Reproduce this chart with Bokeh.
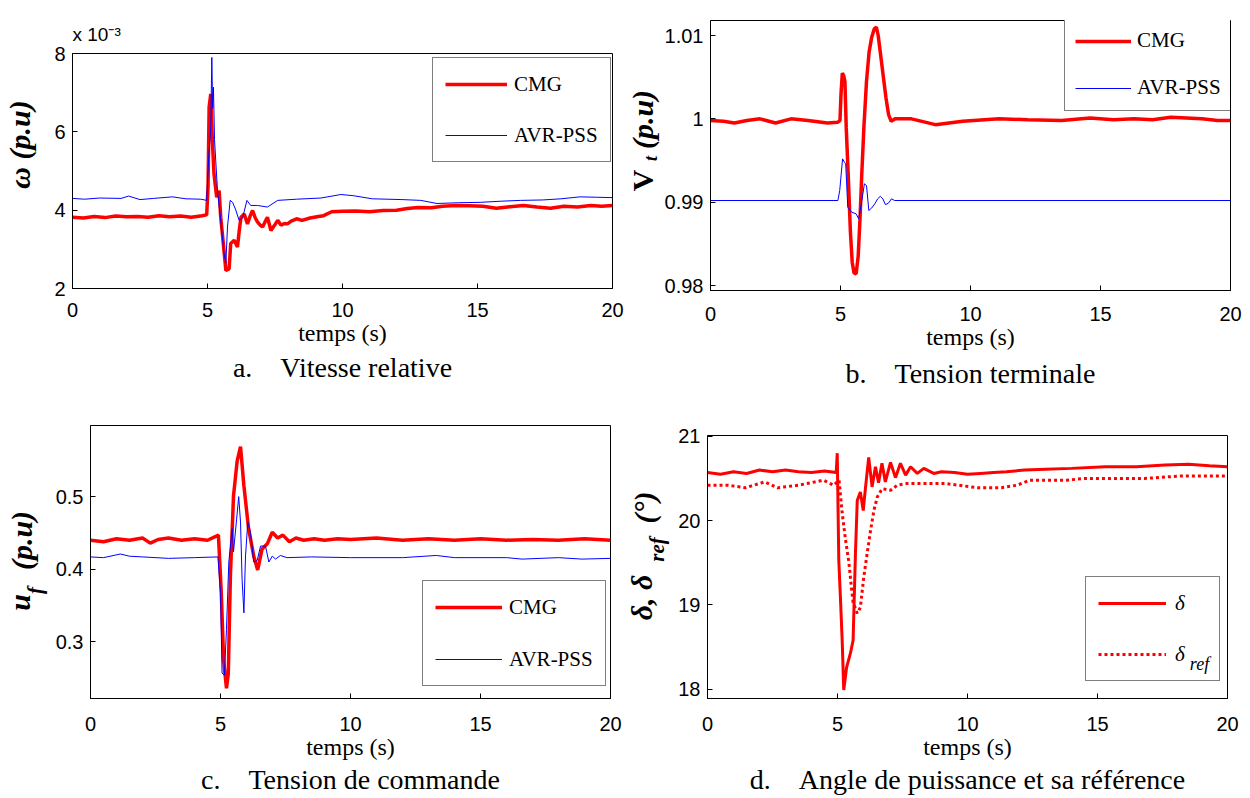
import math
from bokeh.plotting import figure
from bokeh.layouts import column, row
from bokeh.models import Label, Legend, LegendItem, FixedTicker, Range1d, Title
from bokeh.core.properties import value
from bokeh.embed import file_html
from bokeh.resources import INLINE

# ---------------- data ----------------
# a. relative speed (x 1e-3 p.u)
t_w_cmg = [0, 0.4, 0.8, 1.2, 1.6, 2.0, 2.4, 2.8, 3.2, 3.6,
           4.0, 4.4, 4.8, 4.97, 5.02, 5.06, 5.12, 5.18, 5.24, 5.34,
           5.43, 5.49, 5.55, 5.62, 5.68, 5.8, 5.86, 5.99, 6.11, 6.18,
           6.24, 6.36, 6.48, 6.58, 6.67, 6.77, 6.85, 6.95, 7.04, 7.13,
           7.22, 7.35, 7.47, 7.6, 7.72, 7.85, 7.96, 8.1, 8.3, 8.5,
           8.8, 9.1, 9.3, 9.6, 10.0, 10.5, 11.0, 11.5, 12.0, 12.4,
           12.8, 13.3, 13.7, 14.2, 14.7, 15.2, 15.7, 16.2, 16.7, 17.2,
           17.7, 18.2, 18.7, 19.2, 19.6, 20.0]
w_cmg = [3.82, 3.80, 3.84, 3.81, 3.85, 3.83, 3.84, 3.82, 3.86, 3.83,
         3.85, 3.82, 3.86, 3.88, 4.6, 6.63, 6.97, 5.78, 4.93, 4.33,
         4.5, 3.82, 3.4, 2.9, 2.46, 2.5, 3.15, 3.23, 3.06, 3.5,
         3.82, 3.9, 3.65, 3.85, 3.99, 3.8, 3.7, 3.62, 3.57, 3.7,
         3.82, 3.48, 3.6, 3.74, 3.62, 3.66, 3.65, 3.72, 3.78, 3.74,
         3.8, 3.84, 3.86, 3.96, 3.97, 3.98, 3.96, 3.99, 4.0, 4.04,
         4.07, 4.06, 4.1, 4.12, 4.11, 4.1, 4.05, 4.09, 4.12, 4.08,
         4.05, 4.1, 4.08, 4.12, 4.1, 4.12]
t_w_pss = [0, 0.45, 1.0, 1.8, 2.08, 2.5, 3.0, 3.7, 4.2, 4.75,
           4.97, 5.04, 5.12, 5.16, 5.19, 5.22, 5.26, 5.37, 5.49, 5.61,
           5.68, 5.74, 5.84, 5.93, 6.05, 6.17, 6.3, 6.46, 6.6, 6.85,
           7.22, 7.6, 8.3, 9.2, 9.94, 10.4, 11.1, 12.2, 12.9, 13.5,
           14.3, 15.1, 15.9, 16.6, 17.4, 18.1, 18.8, 19.4, 20.0]
w_pss = [4.30, 4.28, 4.31, 4.30, 4.36, 4.27, 4.30, 4.34, 4.29, 4.28,
         4.25, 5.3, 6.1, 7.9, 6.6, 7.14, 5.8, 4.5, 3.74, 2.9,
         2.65, 3.57, 4.25, 4.2, 4.0, 3.74, 3.8, 4.25, 4.12, 4.12,
         4.08, 4.25, 4.28, 4.31, 4.4, 4.37, 4.29, 4.27, 4.25, 4.17,
         4.19, 4.2, 4.23, 4.25, 4.26, 4.29, 4.34, 4.33, 4.32]

# b. terminal voltage (p.u)
t_vt_cmg = [0, 0.5, 0.92, 1.4, 1.9, 2.5, 3.1, 3.75, 4.5, 4.9,
            4.98, 5.02, 5.07, 5.12, 5.17, 5.22, 5.3, 5.38, 5.45, 5.52,
            5.6, 5.68, 5.75, 5.82, 5.9, 6.0, 6.1, 6.2, 6.3, 6.38,
            6.45, 6.55, 6.65, 6.75, 6.85, 6.95, 7.1, 7.73, 8.65, 9.7,
            11.1, 12.2, 13.5, 14.6, 15.5, 16.3, 17.0, 17.7, 18.3, 18.9,
            19.5, 20.0]
vt_cmg = [0.9998, 0.9997, 0.9995, 0.9998, 1.0000, 0.9995, 1.0000, 0.9998, 0.9995, 0.9996,
          0.9998, 1.003, 1.0055, 1.0052, 1.0045, 0.999, 0.993, 0.9865, 0.9828, 0.9815,
          0.9814, 0.9835, 0.988, 0.9935, 0.999, 1.0045, 1.008, 1.0098, 1.0108, 1.011,
          1.0100, 1.0075, 1.005, 1.0025, 1.0005, 0.9997, 1.0, 1.0, 0.9993, 0.9997,
          1.0, 0.9999, 0.9998, 1.0001, 0.9999, 1.0, 0.9999, 1.0002, 1.0001, 1.0,
          0.9998, 0.9998]
t_vt_pss = [0, 4.9, 4.97, 5.08, 5.15, 5.2, 5.28, 5.43, 5.6, 5.7,
            5.8, 5.92, 6.0, 6.09, 6.2, 6.32, 6.43, 6.53, 6.63, 6.73,
            6.85, 6.96, 7.08, 20.0]
vt_pss = [0.9902, 0.9902, 0.9914, 0.9952, 0.9948, 0.9946, 0.9894, 0.9888, 0.9886, 0.988,
          0.9898, 0.9922, 0.992, 0.989, 0.9893, 0.9898, 0.9904, 0.9907, 0.9904, 0.9897,
          0.9899, 0.9904, 0.9902, 0.9902]

# c. control voltage (p.u)
t_uf_cmg = [0, 0.5, 1.0, 1.5, 2.0, 2.3, 2.6, 3.0, 3.5, 4.0,
            4.5, 4.92, 5.03, 5.12, 5.23, 5.3, 5.38, 5.5, 5.64, 5.77,
            5.9, 6.08, 6.28, 6.43, 6.6, 6.8, 6.99, 7.2, 7.4, 7.65,
            7.9, 8.2, 8.6, 9.0, 9.5, 10.0, 11.0, 12.0, 13.0, 14.0,
            15.0, 16.0, 17.0, 18.0, 19.0, 20.0]
uf_cmg = [0.440, 0.438, 0.442, 0.440, 0.443, 0.436, 0.441, 0.443, 0.440, 0.442,
          0.440, 0.447, 0.368, 0.275, 0.236, 0.256, 0.39, 0.501, 0.549, 0.569,
          0.515, 0.456, 0.418, 0.399, 0.428, 0.435, 0.451, 0.443, 0.447, 0.438,
          0.443, 0.44, 0.442, 0.44, 0.442, 0.441, 0.443, 0.44, 0.442, 0.44,
          0.442, 0.44, 0.441, 0.44, 0.442, 0.44]
t_uf_pss = [0, 0.5, 1.15, 1.5, 2.0, 3.0, 4.0, 4.9, 5.0, 5.06,
            5.15, 5.23, 5.32, 5.45, 5.5, 5.62, 5.7, 5.77, 5.83, 5.9,
            5.96, 6.05, 6.15, 6.28, 6.41, 6.54, 6.73, 6.86, 6.99, 7.12,
            7.3, 7.56, 8.5, 10.0, 12.0, 13.3, 14.0, 16.0, 16.6, 18.0,
            18.9, 20.0]
uf_pss = [0.417, 0.416, 0.421, 0.418, 0.417, 0.415, 0.416, 0.417, 0.368, 0.257,
          0.254, 0.317, 0.41, 0.456, 0.424, 0.469, 0.50, 0.465, 0.386, 0.34,
          0.417, 0.465, 0.451, 0.41, 0.412, 0.432, 0.432, 0.410, 0.418, 0.414,
          0.419, 0.416, 0.417, 0.416, 0.416, 0.419, 0.416, 0.416, 0.414, 0.416,
          0.414, 0.415]

# d. power angle and reference (deg)
t_delta = [0, 0.5, 1.0, 1.5, 2.0, 2.5, 3.0, 3.5, 4.0, 4.5,
           4.95, 4.99, 5.05, 5.12, 5.18, 5.24, 5.35, 5.5, 5.6, 5.69,
           5.76, 5.88, 5.99, 6.08, 6.2, 6.33, 6.46, 6.58, 6.71, 6.84,
           7.04, 7.23, 7.42, 7.62, 7.81, 8.07, 8.32, 8.7, 9.0, 9.5,
           10.0, 10.5, 11.0, 11.5, 12.2, 13.0, 14.0, 15.3, 16.5, 17.6,
           18.5, 19.3, 20.0]
delta = [20.57, 20.55, 20.58, 20.56, 20.6, 20.58, 20.6, 20.58, 20.57, 20.59,
         20.57, 20.8, 19.53, 19.03, 18.58, 17.99, 18.26, 18.43, 18.58, 19.61,
         20.24, 20.34, 20.12, 20.4, 20.75, 20.4, 20.64, 20.45, 20.68, 20.46,
         20.69, 20.51, 20.68, 20.54, 20.64, 20.56, 20.62, 20.56, 20.58, 20.57,
         20.55, 20.56, 20.57, 20.58, 20.6, 20.61, 20.62, 20.64, 20.64, 20.66,
         20.67, 20.65, 20.64]
t_delta_ref = [0, 0.8, 1.46, 2.2, 2.7, 3.5, 4.46, 4.85, 5.06, 5.18,
               5.31, 5.44, 5.53, 5.6, 5.76, 5.88, 6.01, 6.14, 6.27, 6.4,
               6.53, 6.72, 7.04, 7.3, 7.68, 8.07, 9.15, 10.4, 11.3, 11.9,
               12.4, 13.8, 14.5, 16.8, 18.2, 20.0]
delta_ref = [20.42, 20.42, 20.39, 20.46, 20.39, 20.42, 20.48, 20.42, 20.48, 20.09,
             19.77, 19.5, 19.22, 19.03, 18.9, 18.97, 19.33, 19.61, 19.88, 20.12,
             20.28, 20.38, 20.36, 20.42, 20.44, 20.44, 20.44, 20.39, 20.39, 20.42,
             20.48, 20.48, 20.5, 20.5, 20.53, 20.53]

x_ticks = [0, 5, 10, 15, 20]
yticks_a = [2, 4, 6, 8]
yticks_b = [0.98, 0.99, 1.0, 1.01]
yticks_c = [0.3, 0.4, 0.5]
yticks_d = [18, 19, 20, 21]

# ---------------- styling ----------------
SERIF = "Liberation Serif"
SANS = "Liberation Sans"
RED = "#ff0000"
BLUE = "#0000ff"
ROT = math.pi / 2
GAP = "\u00a0" * 4


def make_fig(w, h, l, r, t, b, yr, yticks, xstand, overrides=None):
    p = figure(width=w, height=h, x_range=Range1d(0, 20), y_range=Range1d(*yr),
               output_backend="svg", toolbar_location=None, frame_align=False,
               min_border_left=l, min_border_right=r, min_border_top=t, min_border_bottom=b,
               background_fill_color="white", border_fill_color="white")
    p.grid.visible = False
    p.outline_line_color = "black"
    p.outline_line_width = 1
    for ax in (p.xaxis[0], p.yaxis[0]):
        ax.major_tick_in = 5
        ax.major_tick_out = 0
        ax.minor_tick_line_color = None
        ax.axis_line_color = "black"
        ax.major_label_text_font = SANS
        ax.major_label_text_font_size = "20px"
        ax.major_label_text_color = "black"
    p.xaxis[0].ticker = FixedTicker(ticks=x_ticks)
    p.yaxis[0].ticker = FixedTicker(ticks=yticks)
    p.xaxis[0].major_label_standoff = xstand
    p.yaxis[0].major_label_standoff = 7
    if overrides:
        p.yaxis[0].major_label_overrides = overrides
    p.xaxis[0].axis_label = "temps (s)"
    p.xaxis[0].axis_label_text_font = SERIF
    p.xaxis[0].axis_label_text_font_size = "24px"
    p.xaxis[0].axis_label_text_font_style = "normal"
    p.xaxis[0].axis_label_text_color = "black"
    p.xaxis[0].axis_label_standoff = 0
    return p


def caption(p, text, standoff):
    p.add_layout(Title(text=text, align="center", vertical_align="top", standoff=standoff,
                       text_font=SERIF, text_font_size="28px", text_font_style="normal",
                       text_color="black"), "below")


def legend(p, items, loc, glyph_w, spacing, pad, standoff, hgt=28, label_width=20,
           style="normal", alpha=1.0):
    lg = Legend(items=items, location=loc, orientation="vertical",
                border_line_color="black", border_line_width=1, background_fill_color="white",
                background_fill_alpha=alpha, label_text_font=SERIF, label_text_font_size="21px",
                label_text_font_style=style, label_text_color="black",
                glyph_width=glyph_w, glyph_height=hgt, label_height=hgt, label_width=label_width,
                spacing=spacing, padding=pad, label_standoff=standoff, margin=0)
    p.add_layout(lg)


def text_fig(w, h, items):
    """Narrow text-only canvas holding a rotated y-axis title (with sub/superscripts)."""
    t = figure(width=w, height=h, x_range=Range1d(0, w), y_range=Range1d(h, 0),
               output_backend="svg", toolbar_location=None, min_border=0, frame_align=False,
               x_axis_type=None, y_axis_type=None, outline_line_color=None,
               background_fill_color="white", border_fill_color="white")
    for txt, x, y, size, style in items:
        t.text(x=[x], y=[y], text=[txt], angle=ROT, text_font=value(SERIF),
               text_font_size=value(f"{size}px"), text_font_style=style,
               text_align="center", text_baseline="middle", text_color="black")
    return t


# ---------- a ----------
pa = make_fig(585, 400, 32, 13, 53, 112, (2, 8), yticks_a, 14)
ra1 = pa.line(t_w_cmg, w_cmg, line_color=RED, line_width=3.5)
ra2 = pa.line(t_w_pss, w_pss, line_color=BLUE, line_width=1)
legend(pa, [LegendItem(label="CMG", renderers=[ra1]), LegendItem(label="AVR-PSS", renderers=[ra2])],
       (360, 126), 62, 23, 12, 7)
pa.add_layout(Title(text="x 10⁻³", align="left", offset=0, vertical_align="bottom", standoff=18,
                    text_font=SANS, text_font_size="19px", text_font_style="normal",
                    text_color="black"), "above")
caption(pa, "a." + GAP + "Vitesse relative", 7)
ta = text_fig(40, 400, [("ω (p.u)", 19, 144, 30, "bold italic")])

# ---------- b ----------
pb = make_fig(589, 400, 46, 20, 20, 110, (0.9794, 1.0118), yticks_b, 16,
              overrides={0.98: "0.98", 0.99: "0.99", 1: "1", 1.01: "1.01"})
rb1 = pb.line(t_vt_cmg, vt_cmg, line_color=RED, line_width=3.5)
rb2 = pb.line(t_vt_pss, vt_pss, line_color=BLUE, line_width=1)
legend(pb, [LegendItem(label="CMG", renderers=[rb1]), LegendItem(label="AVR-PSS", renderers=[rb2])],
       (354, 179), 56, 22, 10, 6, hgt=24)
caption(pb, "b." + GAP + "Tension terminale", 11)
tb = text_fig(36, 400, [("V", 17, 180, 30, "bold"),
                        ("t", 25, 158, 18, "bold italic"),
                        ("(p.u)", 17, 119, 30, "bold italic")])

# ---------- c ----------
pc = make_fig(575, 398, 40, 15, 25, 100, (0.222, 0.598), yticks_c, 18)
rc1 = pc.line(t_uf_cmg, uf_cmg, line_color=RED, line_width=3.5)
rc2 = pc.line(t_uf_pss, uf_pss, line_color=BLUE, line_width=1)
legend(pc, [LegendItem(label="CMG", renderers=[rc1]), LegendItem(label="AVR-PSS", renderers=[rc2])],
       (332, 12), 67, 24, 12, 7)
caption(pc, "c." + GAP + "Tension de commande", 3)
tc = text_fig(50, 398, [("u", 19, 202, 30, "bold italic"),
                        ("f", 34, 190, 21, "bold italic"),
                        ("(p.u)", 21, 140, 30, "bold italic")])

# ---------- d ----------
pd = make_fig(577, 398, 34, 23, 35, 100, (17.89, 21.01), yticks_d, 18)
rd1 = pd.line(t_delta, delta, line_color=RED, line_width=3)
rd2 = pd.line(t_delta_ref, delta_ref, line_color=RED, line_width=3, line_dash="3 3")
legend(pd, [LegendItem(label="δ", renderers=[rd1]), LegendItem(label="δ", renderers=[rd2])],
       (378, 17), 68, 23, 12, 9, label_width=32, style="italic", alpha=0.0)
pd.add_layout(Label(x=492, y=35, x_units="screen", y_units="screen", text="ref",
                    text_font=SERIF, text_font_size="18px", text_font_style="italic",
                    text_color="black", text_align="center", text_baseline="middle"))
caption(pd, "d." + GAP + "Angle de puissance et sa référence", 3)
td = text_fig(48, 398, [("δ, δ", 16, 197, 30, "bold italic"),
                        ("ref", 31, 149, 21, "bold italic"),
                        ("(°)", 19, 107, 30, "bold italic")])

layout = column(row(ta, pa, tb, pb), row(tc, pc, td, pd))
open("out.html", "w").write(file_html(layout, INLINE))
